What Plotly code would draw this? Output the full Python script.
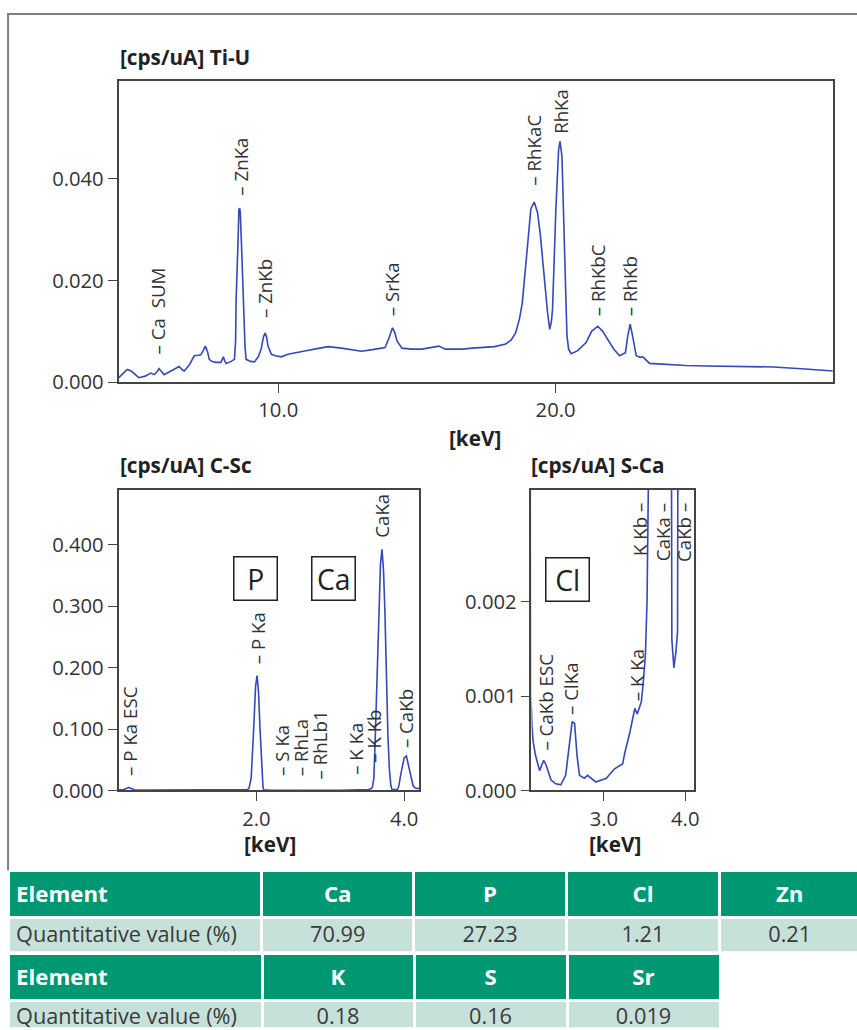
import plotly.graph_objects as go

# the photographed page comes out ~1.1% smaller than drawn, so draw slightly larger
K = 1.011
W, H = round(857 * K), round(1030 * K)
FONT = "Open Sans"
TXT = "#333333"
LINE = "#3549b8"

# ---------------- data ----------------
# Ti-U spectrum (keV, cps/uA)
hi_kev = [4.25, 4.40, 4.55, 4.70, 4.79, 4.97, 5.20, 5.40, 5.52, 5.62, 5.70, 5.80, 5.88, 6.10, 6.30, 6.42,
          6.55, 6.61, 6.80, 6.97, 7.10, 7.21, 7.30, 7.37, 7.45, 7.51, 7.60, 7.75, 7.93, 7.98, 8.02, 8.07,
          8.12, 8.30, 8.42, 8.46, 8.48, 8.54, 8.58, 8.61, 8.63, 8.68, 8.72, 8.76, 8.80, 8.84, 9.00, 9.14,
          9.28, 9.38, 9.47, 9.53, 9.58, 9.63, 9.75, 9.90, 10.11, 10.35, 10.59, 11.0, 11.4, 11.80, 12.28,
          12.6, 13.0, 13.4, 13.85, 13.98, 14.12, 14.20, 14.28, 14.46, 14.8, 15.18, 15.55, 15.79, 16.03,
          16.63, 17.0, 17.36, 17.8, 18.2, 18.4, 18.56, 18.70, 18.80, 18.90, 18.99, 19.11, 19.23, 19.35,
          19.45, 19.53, 19.62, 19.71, 19.79, 19.85, 19.89, 19.95, 20.01, 20.11, 20.16, 20.23, 20.32,
          20.41, 20.47, 20.56, 20.80, 21.10, 21.30, 21.52, 21.70, 21.90, 22.10, 22.31, 22.45, 22.52,
          22.60, 22.69, 22.78, 22.91, 23.05, 23.15, 23.39, 24.0, 24.7, 25.45, 26.5, 27.86, 29.0, 30.0]
hi_cps = [0.0009, 0.0018, 0.0025, 0.0022, 0.0017, 0.0009, 0.0012, 0.0018, 0.0015, 0.0020, 0.0027, 0.0020,
          0.0015, 0.0021, 0.0027, 0.0031, 0.0024, 0.0022, 0.0035, 0.0052, 0.0053, 0.0054, 0.0063, 0.0071,
          0.0060, 0.0045, 0.0041, 0.0039, 0.0039, 0.0045, 0.0050, 0.0042, 0.0037, 0.0041, 0.0045, 0.0080,
          0.0163, 0.0261, 0.0339, 0.0342, 0.0333, 0.0261, 0.0180, 0.0117, 0.0070, 0.0045, 0.0041, 0.0040,
          0.0050, 0.0065, 0.0090, 0.0097, 0.0088, 0.0071, 0.0055, 0.0052, 0.0050, 0.0055, 0.0058, 0.0062,
          0.0066, 0.0070, 0.0067, 0.0064, 0.0061, 0.0064, 0.0068, 0.0085, 0.0107, 0.0098, 0.0081, 0.0067,
          0.0065, 0.0065, 0.0068, 0.0071, 0.0065, 0.0065, 0.0067, 0.0068, 0.0070, 0.0075, 0.0083, 0.0097,
          0.0125, 0.0156, 0.0215, 0.0274, 0.0341, 0.0354, 0.0333, 0.0290, 0.0248, 0.0190, 0.0137, 0.0104,
          0.0120, 0.0143, 0.0240, 0.0339, 0.0457, 0.0473, 0.0444, 0.0255, 0.0092, 0.0065, 0.0056, 0.0062,
          0.0078, 0.0100, 0.0110, 0.0100, 0.0082, 0.0065, 0.0052, 0.0055, 0.0058, 0.0090, 0.0114, 0.0090,
          0.0052, 0.0049, 0.0050, 0.0037, 0.0035, 0.0033, 0.0032, 0.0031, 0.0030, 0.0026, 0.0022]

# C-Sc / S-Ca spectrum (keV, cps/uA)
lo_kev = [0.14, 0.20, 0.25, 0.27, 0.30, 0.35, 0.60, 1.00, 1.40, 1.80, 1.88, 1.90, 1.93, 1.96, 1.99, 2.01,
          2.03, 2.05, 2.07, 2.08, 2.09, 2.10, 2.11, 2.115, 2.13, 2.16, 2.21, 2.26, 2.29, 2.35, 2.41, 2.47,
          2.53, 2.58, 2.61, 2.64, 2.67, 2.70, 2.76, 2.80, 2.90, 3.03, 3.13, 3.23, 3.26, 3.32, 3.38, 3.41,
          3.46, 3.48, 3.51, 3.53, 3.55, 3.57, 3.59, 3.61, 3.64, 3.66, 3.68, 3.70, 3.72, 3.74, 3.76, 3.78,
          3.80, 3.82, 3.835, 3.86, 3.885, 3.905, 3.92, 3.93, 3.96, 4.00, 4.03, 4.06, 4.09, 4.12, 4.15, 4.20]
lo_cps = [0.0010, 0.0012, 0.0035, 0.0050, 0.0035, 0.0012, 0.0008, 0.0007, 0.0007, 0.0008, 0.0015, 0.0030,
          0.0200, 0.0900, 0.1700, 0.1870, 0.1600, 0.1000, 0.0450, 0.0200, 0.0060, 0.0010, 0.00085,
          0.00069, 0.00052, 0.00037, 0.00021, 0.00032, 0.00027, 0.00011, 0.00007, 0.00006, 0.00016,
          0.00055, 0.00073, 0.00071, 0.00037, 0.00016, 0.00013, 0.00016, 0.00009, 0.00013, 0.00023,
          0.00028, 0.00041, 0.00062, 0.00087, 0.00081, 0.00094, 0.00111, 0.00143, 0.0020, 0.0026, 0.0050,
          0.0200, 0.0900, 0.2000, 0.3000, 0.3700, 0.3930, 0.3600, 0.2900, 0.1800, 0.0900, 0.0350, 0.0080,
          0.0016, 0.0013, 0.00147, 0.00168, 0.0040, 0.0090, 0.0300, 0.0530, 0.0560, 0.0400, 0.0200,
          0.0080, 0.0040, 0.0030]

hi_labels = ["– Ca  SUM", "– ZnKa", "– ZnKb", "– SrKa", "– RhKaC", "RhKa", "– RhKbC", "– RhKb"]
hi_lab_kev = [5.65, 8.63, 9.50, 14.09, 19.20, 20.18, 21.52, 22.67]
hi_lab_y = [0.0053, 0.0365, 0.0124, 0.0127, 0.0384, 0.0486, 0.0127, 0.0127]

bl_labels = ["– P Ka ESC", "– P Ka", "– S Ka", "– RhLa", "– RhLb1", "– K Ka", "– K Kb", "CaKa", "– CaKb"]
bl_lab_kev = [0.29, 2.01, 2.34, 2.60, 2.86, 3.35, 3.59, 3.70, 4.01]
bl_lab_y = [0.022, 0.204, 0.022, 0.022, 0.017, 0.024, 0.044, 0.410, 0.068]

br_labels = ["– CaKb ESC", "– ClKa", "– K Ka"]
br_lab_kev = [2.28, 2.59, 3.40]
br_lab_y = [0.00041, 0.00079, 0.00094]
br_top_labels = ["K Kb –", "CaKa –", "CaKb –"]
br_top_kev = [3.44, 3.73, 3.98]
br_top_y = [0.00306, 0.00306, 0.00306]

box_bl = ["P", "Ca"]
box_bl_kev = [1.99, 3.05]
box_bl_y = [0.345, 0.345]
box_br = ["Cl"]
box_br_kev = [2.556]
box_br_y = [0.00224]

elements_1 = ["Ca", "P", "Cl", "Zn"]
values_1 = ["70.99", "27.23", "1.21", "0.21"]
elements_2 = ["K", "S", "Sr"]
values_2 = ["0.18", "0.16", "0.019"]
row_head = "Element"
row_label = "Quantitative value (%)"

# ---------------- helpers (reference pixel -> paper) ----------------
def px(x):
    return x / 857

def py(y):
    return 1 - y / 1030

def s(v):
    return v * K

fig = go.Figure()
for xa, ya, xs, ys in [("x", "y", hi_kev, hi_cps), ("x2", "y2", lo_kev, lo_cps), ("x3", "y3", lo_kev, lo_cps)]:
    fig.add_trace(go.Scatter(x=xs, y=ys, mode="lines", line=dict(color=LINE, width=s(1.6)),
                             xaxis=xa, yaxis=ya, showlegend=False, hoverinfo="skip"))

axis_common = dict(showline=True, linecolor="#444444", linewidth=s(1.5), mirror=True, ticks="outside",
                   ticklen=s(9), tickwidth=s(1.3), tickcolor="#444444", showgrid=False, zeroline=False,
                   tickfont=dict(family=FONT, size=s(20), color=TXT), ticklabelstandoff=0)

fig.update_layout(
    width=W, height=H, margin=dict(l=0, r=0, t=0, b=0),
    paper_bgcolor="white", plot_bgcolor="white", showlegend=False,
    xaxis=dict(domain=[px(118), px(829)], range=[4.24, 30.0], tickvals=[10, 20], ticktext=["10.0", "20.0"],
               anchor="y", **axis_common),
    yaxis=dict(domain=[py(383), py(81)], range=[0, 0.0592], tickvals=[0, 0.02, 0.04],
               ticktext=["0.000", "0.020", "0.040"], anchor="x", **axis_common),
    xaxis2=dict(domain=[px(118), px(417)], range=[0.136, 4.2], tickvals=[2, 4], ticktext=["2.0", "4.0"],
                anchor="y2", **axis_common),
    yaxis2=dict(domain=[py(792), py(491)], range=[0, 0.4894], tickvals=[0, 0.1, 0.2, 0.3, 0.4],
                ticktext=["0.000", "0.100", "0.200", "0.300", "0.400"], anchor="x2", **axis_common),
    xaxis3=dict(domain=[px(529), px(691)], range=[2.11, 4.11], tickvals=[3, 4], ticktext=["3.0", "4.0"],
                anchor="y3", **axis_common),
    yaxis3=dict(domain=[py(792), py(491)], range=[0, 0.003185], tickvals=[0, 0.001, 0.002],
                ticktext=["0.000", "0.001", "0.002"], anchor="x3", **axis_common),
)

ann = []
LABF = dict(family=FONT, size=s(18.5), color=TXT)

def peak_labels(texts, xs, ys, xref, yref, yanchor):
    for t, x, y in zip(texts, xs, ys):
        ann.append(dict(text=t, x=x, y=y, xref=xref, yref=yref, textangle=-90, showarrow=False,
                        xanchor="center", yanchor=yanchor, font=LABF, borderpad=0))

peak_labels(hi_labels, hi_lab_kev, hi_lab_y, "x", "y", "bottom")
peak_labels(bl_labels, bl_lab_kev, bl_lab_y, "x2", "y2", "bottom")
peak_labels(br_labels, br_lab_kev, br_lab_y, "x3", "y3", "bottom")
peak_labels(br_top_labels, br_top_kev, br_top_y, "x3", "y3", "top")

for t, x, y, xr, yr in list(zip(box_bl, box_bl_kev, box_bl_y, ["x2"] * 2, ["y2"] * 2)) + \
        list(zip(box_br, box_br_kev, box_br_y, ["x3"], ["y3"])):
    ann.append(dict(text=t, x=x, y=y, xref=xr, yref=yr, showarrow=False, width=s(40), height=s(40),
                    bordercolor="#222222", borderwidth=s(1.5), borderpad=1, bgcolor="white",
                    font=dict(family=FONT, size=s(28), color="#222222")))

TITF = dict(family=FONT, size=s(20.5), color="#222222", weight="bold")
for t, x, y in [("[cps/uA] Ti-U", 117, 57), ("[cps/uA] C-Sc", 117, 466), ("[cps/uA] S-Ca", 527, 466)]:
    ann.append(dict(text=t, x=px(x), y=py(y), xref="paper", yref="paper", showarrow=False,
                    xanchor="left", yanchor="middle", font=TITF))
KEVF = dict(family=FONT, size=s(20.5), color="#222222", weight="bold")
for x, y in [(473, 439), (269, 846), (612, 846)]:
    ann.append(dict(text="[keV]", x=px(x), y=py(y), xref="paper", yref="paper", showarrow=False,
                    xanchor="center", yanchor="middle", font=KEVF))

fig.update_layout(annotations=ann)

# frame lines
fig.add_shape(type="line", xref="paper", yref="paper", x0=px(7), x1=1, y0=py(14), y1=py(14),
              line=dict(color="#808080", width=s(2)))
fig.add_shape(type="line", xref="paper", yref="paper", x0=px(8), x1=px(8), y0=py(13), y1=py(872),
              line=dict(color="#808080", width=s(2)))

GREEN = "#009872"
LIGHT = "#c6e1d9"
HF = dict(family=FONT, size=s(22), color="white")
CF = dict(family=FONT, size=s(21.5), color="#3a3a3a")

fig.add_trace(go.Table(
    domain=dict(x=[px(8), 1.0], y=[py(954), py(872)]),
    columnwidth=[249, 149, 150, 150, 138],
    header=dict(values=["<b>" + v + "</b>" for v in [row_head] + elements_1],
                fill_color=GREEN, font=HF, height=s(41), align=["left"] + ["center"] * 4,
                line=dict(color="white", width=s(3))),
    cells=dict(values=[[v] for v in [row_label] + values_1], fill_color=LIGHT, font=CF, height=s(41),
               align=["left"] + ["center"] * 4, line=dict(color="white", width=s(3))),
))
fig.add_trace(go.Table(
    domain=dict(x=[px(8), px(717)], y=[0.0, py(955)]),
    columnwidth=[249, 149, 150, 150],
    header=dict(values=["<b>" + v + "</b>" for v in [row_head] + elements_2],
                fill_color=GREEN, font=HF, height=s(41), align=["left"] + ["center"] * 3,
                line=dict(color="white", width=s(3))),
    cells=dict(values=[[v] for v in [row_label] + values_2], fill_color=LIGHT, font=CF, height=s(34),
               align=["left"] + ["center"] * 3, line=dict(color="white", width=s(3))),
))

# remove the default 8px page margin so the figure starts at the window corner
fig.write_html("out.html", config={"displayModeBar": False},
               post_script="document.body.style.margin='0';")
